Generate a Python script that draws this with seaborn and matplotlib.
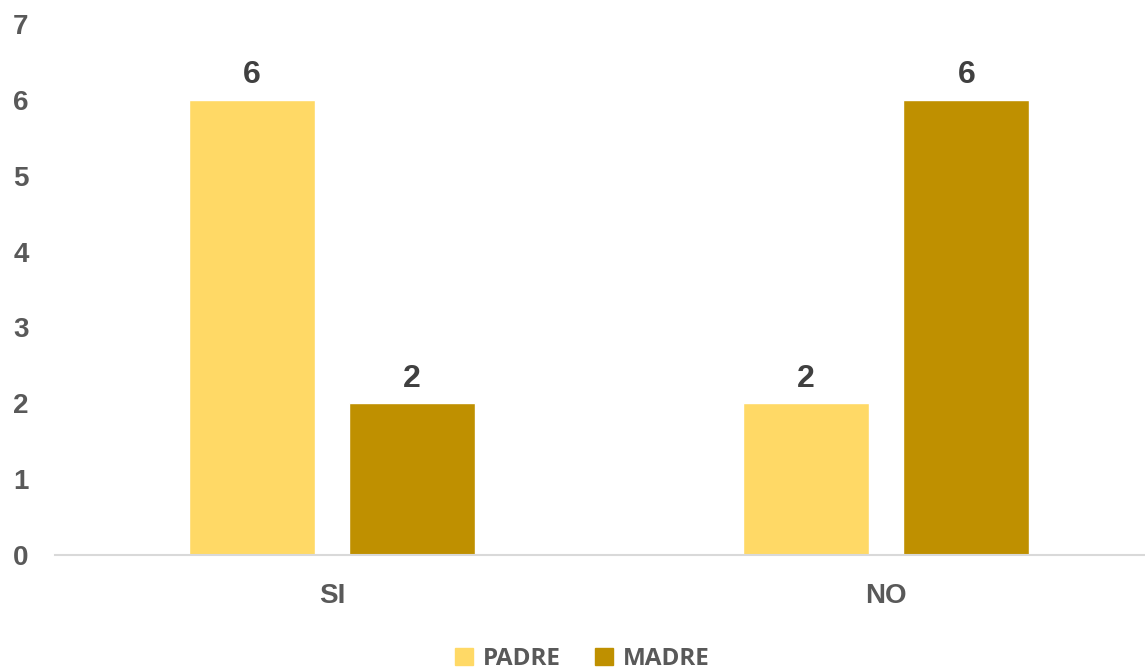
import numpy as np
import pandas as pd
import matplotlib.pyplot as plt
import seaborn as sns

# Data
categories = ['SI', 'NO']
padre = [6, 2]
madre = [2, 6]
series_names = ['PADRE', 'MADRE']
colors = ['#FFD966', '#BF9000']

df = pd.DataFrame({
    'respuesta': categories * 2,
    'valor': padre + madre,
    'grupo': [series_names[0]] * 2 + [series_names[1]] * 2,
})

sns.set_style('white')
plt.rcParams['font.family'] = ['Liberation Sans', 'DejaVu Sans']

fig = plt.figure(figsize=(11.45, 6.72), dpi=100)
ax = fig.add_axes([55 / 1145, 1 - 555 / 672, 1 - 55 / 1145, (555 - 24) / 672])

sns.barplot(data=df, x='respuesta', y='valor', hue='grupo', order=categories,
            hue_order=series_names, palette=colors, width=0.578, gap=0.213,
            saturation=1, ax=ax, legend=False)

ax.set_ylim(0, 7)
ax.set_xlim(-0.5, 1.467)
ax.set_yticks(range(0, 8))
ax.set_xlabel('')
ax.set_ylabel('')
for s in ['top', 'right', 'left']:
    ax.spines[s].set_visible(False)
ax.spines['bottom'].set_color('#D9D9D9')
ax.spines['bottom'].set_linewidth(1.5)
ax.tick_params(axis='both', length=0, labelsize=20, labelcolor='#595959')
ax.tick_params(axis='y', pad=19)
ax.tick_params(axis='x', pad=20)
for lbl in ax.get_xticklabels() + ax.get_yticklabels():
    lbl.set_fontweight('bold')

for cont in ax.containers:
    ax.bar_label(cont, fmt='%d', padding=7, fontsize=23, fontweight='bold',
                 color='#404040')

handles = [plt.Rectangle((0, 0), 1, 1, color=c) for c in colors]
fig.legend(handles, series_names, loc='center', bbox_to_anchor=(582 / 1145, 1 - 659 / 672),
           ncol=2, frameon=False, handlelength=0.75, handleheight=0.75,
           columnspacing=1.4, handletextpad=0.4,
           prop={'family': 'Open Sans', 'weight': 'bold', 'size': 17.5},
           labelcolor='#595959')

fig.savefig('out.png', dpi=100)
